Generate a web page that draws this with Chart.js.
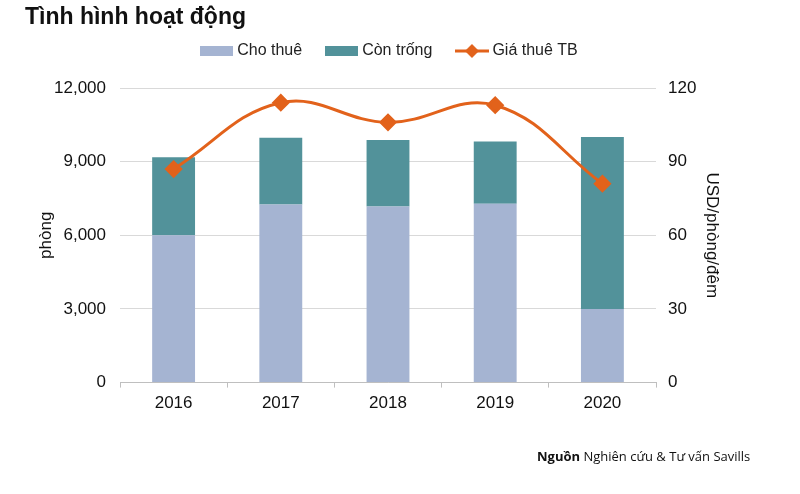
<!DOCTYPE html>
<html>
<head>
<meta charset="utf-8">
<script src="https://cdn.jsdelivr.net/npm/chart.js@4/dist/chart.umd.min.js"></script>
<style>
  html, body { margin: 0; padding: 0; background: #fff; }
  #wrap { width: 800px; height: 494px; }
</style>
</head>
<body>
<div id="wrap"><canvas id="chart"></canvas></div>
<script>
// values
const years = ['2016', '2017', '2018', '2019', '2020'];
const rented = [6000, 7250, 7170, 7290, 3000];   // Cho thuê (phòng)
const vacant = [3180, 2720, 2710, 2530, 7000];   // Còn trống (phòng)
const avgRate = [87, 114, 106, 113, 81];         // Giá thuê TB (USD/phòng/đêm)
const leftTicks = [0, 3000, 6000, 9000, 12000];
const rightTicks = [0, 30, 60, 90, 120];

const FONT = "'Liberation Sans', Arial, sans-serif";
const ORANGE = '#E2621B';
const LIGHT = '#A5B4D2';
const TEAL = '#52929A';

// legend markers drawn on small canvases
function swatch(color) {
  const cv = document.createElement('canvas');
  cv.width = 33; cv.height = 10;
  const c = cv.getContext('2d');
  c.fillStyle = color; c.fillRect(0, 0, 33, 10);
  return cv;
}
const lineMark = document.createElement('canvas');
lineMark.width = 34; lineMark.height = 14;
(function () {
  const c = lineMark.getContext('2d');
  c.strokeStyle = ORANGE; c.lineWidth = 3;
  c.beginPath(); c.moveTo(0, 7); c.lineTo(34, 7); c.stroke();
  c.fillStyle = ORANGE;
  c.beginPath(); c.moveTo(17, 0); c.lineTo(24, 7); c.lineTo(17, 14); c.lineTo(10, 7); c.closePath(); c.fill();
})();
const marks = { 'Cho thuê': swatch(LIGHT), 'Còn trống': swatch(TEAL), 'Giá thuê TB': lineMark };

// extra room under the legend, and nudge it right a bit
const legendGap = {
  id: 'legendGap',
  beforeInit(chart) {
    const fit = chart.legend.fit;
    chart.legend.fit = function () {
      fit.call(this);
      this.height += 19;
    };
  },
  afterLayout(chart) {
    chart.legend.left += 12;
    chart.legend.right += 12;
  }
};

// title top-left, source note bottom-right
const textPlugin = {
  id: 'texts',
  afterDraw(chart) {
    const ctx = chart.ctx;
    ctx.save();
    ctx.fillStyle = '#111';
    ctx.textBaseline = 'alphabetic';
    ctx.font = "bold 23px " + FONT;
    ctx.fillText('Tình hình hoạt động', 25, 24);

    ctx.font = "bold 13px 'Open Sans', 'Noto Sans', sans-serif";
    const b = 'Nguồn';
    ctx.fillText(b, 537, 461);
    const w = ctx.measureText(b).width;
    ctx.font = "13px 'Open Sans', 'Noto Sans', sans-serif";
    ctx.fillText(' Nghiên cứu & Tư vấn Savills', 537 + w, 461);
    ctx.restore();
  }
};

new Chart(document.getElementById('chart'), {
  data: {
    labels: years,
    datasets: [
      {
        type: 'line', label: 'Giá thuê TB', data: avgRate, yAxisID: 'y1',
        borderColor: ORANGE, backgroundColor: ORANGE, borderWidth: 3,
        tension: 0.4, pointStyle: 'rectRot', pointRadius: 7, pointHoverRadius: 7,
        order: 0
      },
      {
        type: 'bar', label: 'Cho thuê', data: rented, yAxisID: 'y',
        backgroundColor: LIGHT, barPercentage: 0.4, categoryPercentage: 1, order: 1
      },
      {
        type: 'bar', label: 'Còn trống', data: vacant, yAxisID: 'y',
        backgroundColor: TEAL, barPercentage: 0.4, categoryPercentage: 1, order: 1
      }
    ]
  },
  options: {
    responsive: true,
    maintainAspectRatio: false,
    animation: false,
    layout: { padding: { top: 16, left: 34, right: 76, bottom: 74 } },
    plugins: {
      tooltip: { enabled: false },
      legend: {
        position: 'top',
        labels: {
          font: { family: FONT, size: 16 }, color: '#222',
          usePointStyle: true, pointStyleWidth: 25, boxHeight: 10, padding: 27,
          generateLabels(chart) {
            const items = Chart.defaults.plugins.legend.labels.generateLabels(chart);
            items.forEach(it => {
              it.pointStyle = marks[it.text];
              it.lineWidth = 0;
            });
            // order: Cho thuê, Còn trống, Giá thuê TB
            return [items[1], items[2], items[0]];
          }
        }
      }
    },
    scales: {
      x: {
        stacked: true,
        grid: { offset: true, drawOnChartArea: false, tickLength: 5, color: '#BFBFBF' },
        border: { color: '#BFBFBF' },
        ticks: { font: { family: FONT, size: 17 }, color: '#111', padding: 6 }
      },
      y: {
        stacked: true, position: 'left', min: 0, max: 12000,
        afterBuildTicks(s) { s.ticks = leftTicks.map(v => ({ value: v })); },
        afterFit(s) { s.width = 86; },
        grid: { color: '#D9D9D9', drawTicks: false },
        border: { display: false },
        ticks: {
          font: { family: FONT, size: 17 }, color: '#111', padding: 14,
          callback: v => v.toLocaleString('en-US')
        },
        title: { display: true, text: 'phòng', font: { family: FONT, size: 17 }, color: '#111', padding: 2 }
      },
      y1: {
        position: 'right', min: 0, max: 120,
        afterBuildTicks(s) { s.ticks = rightTicks.map(v => ({ value: v })); },
        afterFit(s) { s.width = 68; },
        grid: { drawOnChartArea: false, drawTicks: false },
        border: { display: false },
        ticks: { font: { family: FONT, size: 17 }, color: '#111', padding: 12 },
        title: { display: true, text: 'USD/phòng/đêm', font: { family: FONT, size: 17 }, color: '#111', padding: 2 }
      }
    }
  },
  plugins: [legendGap, textPlugin]
});
</script>
</body>
</html>
